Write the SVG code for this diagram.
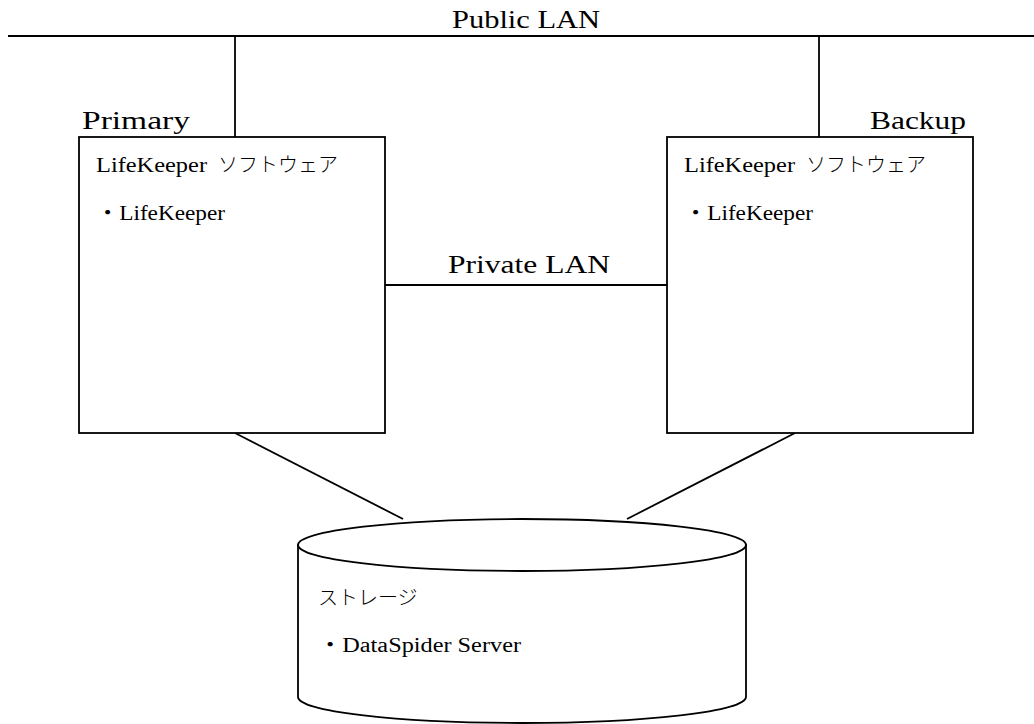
<svg xmlns="http://www.w3.org/2000/svg" width="1034" height="724" viewBox="0 0 1034 724">
  <style>
    .ln { stroke: #000; stroke-width: 1.8; fill: none; }
    .box { stroke: #000; stroke-width: 1.8; fill: #fff; }
    .lbl { font-family: "Liberation Serif", "Noto Sans CJK JP", serif; font-size: 26px; fill: #000; }
    .txt { font-family: "Liberation Serif", "Noto Sans CJK JP", serif; font-size: 20px; fill: #000; }
    .jp { font-family: "Noto Sans CJK JP", sans-serif; font-size: 20px; font-weight: 300; fill: #000; }
  </style>
  <rect x="0" y="0" width="1034" height="724" fill="#fff"/>
  <g id="connectors">
    <line class="ln" x1="8" y1="36" x2="1034" y2="36"/>
    <line class="ln" x1="235" y1="36" x2="235" y2="137"/>
    <line class="ln" x1="819" y1="36" x2="819" y2="137"/>
    <line class="ln" x1="385" y1="285" x2="667" y2="285"/>
    <line class="ln" x1="235" y1="433" x2="403" y2="519"/>
    <line class="ln" x1="795" y1="433" x2="627" y2="519"/>
  </g>
  <g id="public-lan">
    <text class="lbl" x="452" y="28" textLength="148" lengthAdjust="spacingAndGlyphs">Public LAN</text>
  </g>
  <g id="private-lan">
    <text class="lbl" x="448" y="273" textLength="162" lengthAdjust="spacingAndGlyphs">Private LAN</text>
  </g>
  <g id="primary">
    <rect class="box" x="79" y="137" width="306" height="296"/>
    <text class="lbl" x="82" y="129" textLength="108" lengthAdjust="spacingAndGlyphs">Primary</text>
    <text class="txt" x="96" y="172" textLength="111" lengthAdjust="spacingAndGlyphs">LifeKeeper</text>
    <text class="jp" x="218" y="172">ソフトウェア</text>
    <text class="txt" x="96" y="220" textLength="129" lengthAdjust="spacingAndGlyphs">・LifeKeeper</text>
  </g>
  <g id="backup">
    <rect class="box" x="667" y="137" width="306" height="296"/>
    <text class="lbl" x="870" y="129" textLength="96" lengthAdjust="spacingAndGlyphs">Backup</text>
    <text class="txt" x="684" y="172" textLength="111" lengthAdjust="spacingAndGlyphs">LifeKeeper</text>
    <text class="jp" x="806" y="172">ソフトウェア</text>
    <text class="txt" x="684" y="220" textLength="129" lengthAdjust="spacingAndGlyphs">・LifeKeeper</text>
  </g>
  <g id="storage">
    <path class="box" d="M298,545 L298,697 A224,26 0 0 0 746,697 L746,545 Z"/>
    <ellipse class="box" cx="522" cy="545" rx="224" ry="26"/>
    <text class="jp" x="318" y="605">ストレージ</text>
    <text class="txt" x="318" y="652" textLength="203" lengthAdjust="spacingAndGlyphs">・DataSpider Server</text>
  </g>
</svg>
